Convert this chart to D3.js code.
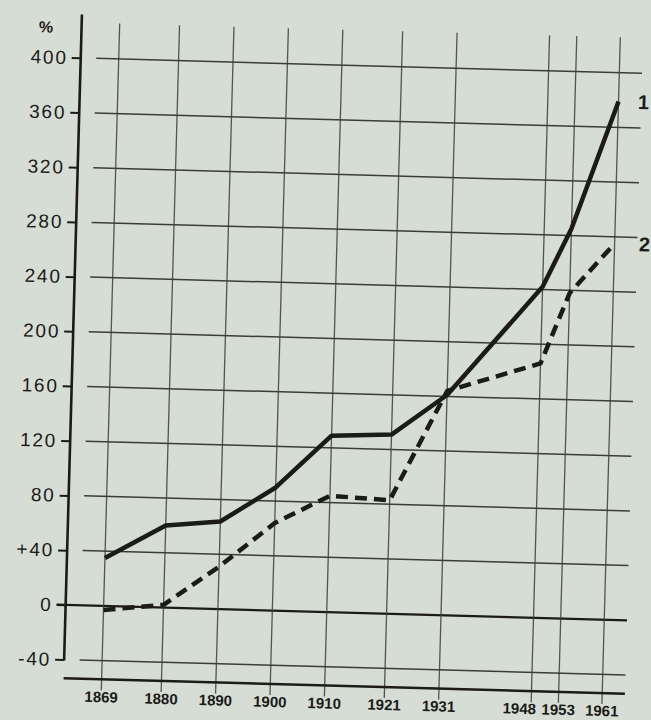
<!DOCTYPE html>
<html>
<head>
<meta charset="utf-8">
<script src="https://cdn.jsdelivr.net/npm/d3@7"></script>
<style>
    body { margin: 0; background: #d6ddd4; }
    svg { display: block; }
</style>
</head>
<body>
<div id="chart"></div>
<script>

// census years on the x axis
var years = [1869, 1880, 1890, 1900, 1910, 1921, 1931, 1948, 1953, 1961]
// growth in %, curve 1 (solid) and curve 2 (dashed)
var series1 = [35, 60, 64, 90, 129, 131, 161, 242, 285, 379]
var series2 = [-3, 2, 31, 64, 85, 83, 164, 186, 238, 275]
var seriesNames = ["1", "2"]

var yTicks = [-40, 0, 40, 80, 120, 160, 200, 240, 280, 320, 360, 400]
var yTickLabels = ["-40", "0", "+40", "80", "120", "160", "200", "240", "280", "320", "360", "400"]
var unitLabel = "%"

var width = 651,
    height = 720

// the scanned page sits a little skewed
var TILT = 1.58
var INK = "#1b1b18"
var GRID = "#3d3d36"

var x = d3.scaleLinear().domain([1869, 1961]).range([110.5, 611.3])
var y = d3.scaleLinear().domain([-40, 400]).range([667.3, 65.4])

var AXIS_X = 72.5
var BASE_Y = 686
var GRID_LEFT = 88
var GRID_RIGHT = 634

var svg = d3.select("#chart").append("svg")
        .attr("width", width)
        .attr("height", height)

svg.append("rect")
    .attr("width", width)
    .attr("height", height)
    .attr("fill", "#d6ddd4")

var g = svg.append("g")
    .attr("transform", "rotate(" + TILT + ",350,360)")

// horizontal grid
g.selectAll(".hgrid")
    .data(yTicks)
  .enter().append("line")
    .attr("class", "hgrid")
    .attr("x1", function(d) { return d === 0 ? 63.5 : GRID_LEFT })
    .attr("x2", GRID_RIGHT)
    .attr("y1", function(d) { return y(d) })
    .attr("y2", function(d) { return y(d) })
    .attr("stroke", function(d) { return d === 0 ? INK : GRID })
    .attr("stroke-width", function(d) { return d === 0 ? 2.2 : 1.5 })

// vertical grid, running down past the base line as ticks
g.selectAll(".vgrid")
    .data(years)
  .enter().append("line")
    .attr("class", "vgrid")
    .attr("x1", function(d) { return x(d) })
    .attr("x2", function(d) { return x(d) })
    .attr("y1", 30)
    .attr("y2", BASE_Y + 11)
    .attr("stroke", GRID)
    .attr("stroke-opacity", 0.85)
    .attr("stroke-width", 1.3)

// base line
g.append("line")
    .attr("x1", AXIS_X)
    .attr("x2", GRID_RIGHT)
    .attr("y1", BASE_Y)
    .attr("y2", BASE_Y)
    .attr("stroke", INK)
    .attr("stroke-width", 2.4)

// y axis
var yAxis = d3.axisLeft(y)
    .tickValues(yTicks)
    .tickFormat(function(d, i) { return yTickLabels[i] })
    .tickSize(9)
    .tickSizeOuter(0)
    .tickPadding(4)

var ya = g.append("g")
    .attr("transform", "translate(" + AXIS_X + ",0)")
    .call(yAxis)
ya.select(".domain").remove()
ya.selectAll(".tick line").attr("stroke", INK).attr("stroke-width", 2)
ya.selectAll(".tick text")
    .attr("fill", INK)
    .style("font-family", "'Liberation Sans', Arial, sans-serif")
    .style("font-size", "19px")
    .style("letter-spacing", "1.8px")

g.append("line")
    .attr("x1", AXIS_X)
    .attr("x2", AXIS_X)
    .attr("y1", 22)
    .attr("y2", y(-40) + 1)
    .attr("stroke", INK)
    .attr("stroke-width", 2.6)

g.append("text")
    .attr("x", 37)
    .attr("y", 41)
    .attr("text-anchor", "middle")
    .attr("fill", INK)
    .style("font-family", "'Liberation Sans', Arial, sans-serif")
    .style("font-size", "16px")
    .style("font-weight", "bold")
    .text(unitLabel)

// x labels (1948 is pushed left, 1953 is too close)
g.selectAll(".xlab")
    .data(years)
  .enter().append("text")
    .attr("class", "xlab")
    .attr("x", function(d, i) {
        var next = years[i + 1]
        return next && next - d < 6 ? x(d) + 5 : x(d)
    })
    .attr("y", 709)
    .attr("text-anchor", function(d, i) {
        var next = years[i + 1]
        return next && next - d < 6 ? "end" : "middle"
    })
    .attr("fill", INK)
    .style("font-family", "'Liberation Sans', Arial, sans-serif")
    .style("font-size", "15px")
    .style("font-weight", "bold")
    .text(function(d) { return d })

// curves
var line = d3.line()
    .x(function(d) { return x(d[0]) })
    .y(function(d) { return y(d[1]) })

var curves = [series1, series2].map(function(vals) {
    return years.map(function(yr, i) { return [yr, vals[i]] })
})

g.selectAll(".curve")
    .data(curves)
  .enter().append("path")
    .attr("class", "curve")
    .attr("d", line)
    .attr("fill", "none")
    .attr("stroke", INK)
    .attr("stroke-width", 4.5)
    .attr("stroke-linejoin", "round")
    .attr("stroke-dasharray", function(d, i) { return i === 1 ? "12,7" : null })

g.selectAll(".slabel")
    .data(curves)
  .enter().append("text")
    .attr("class", "slabel")
    .attr("x", function(d, i) { return x(d[d.length - 1][0]) + (i === 0 ? 25 : 30) })
    .attr("y", function(d) { return y(d[d.length - 1][1]) + 7 })
    .attr("text-anchor", "middle")
    .attr("fill", INK)
    .style("font-family", "'Liberation Sans', Arial, sans-serif")
    .style("font-size", "20px")
    .style("font-weight", "bold")
    .text(function(d, i) { return seriesNames[i] })

</script>
</body>
</html>
